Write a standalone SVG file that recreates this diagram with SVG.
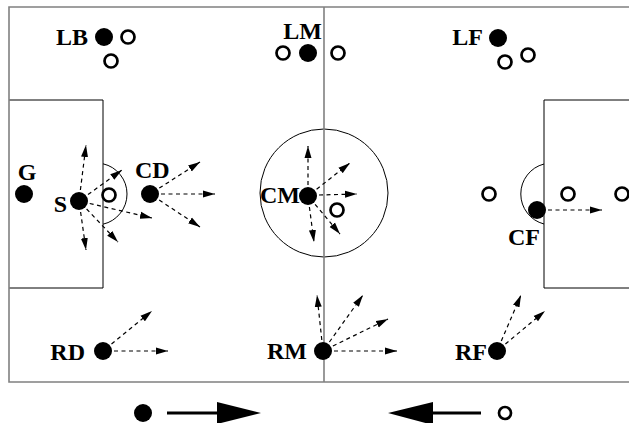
<svg xmlns="http://www.w3.org/2000/svg" width="629" height="423" viewBox="0 0 629 423">
  <style>
    .pitch { fill: none; stroke: #808080; stroke-width: 1.6; }
    .mark { fill: none; stroke: #000; stroke-width: 1; }
    .player { fill: #000; }
    .opp { fill: #fff; stroke: #000; stroke-width: 2.7; }
    .lbl { font-family: "Liberation Serif", "Times New Roman", serif; font-weight: bold; font-size: 24px; fill: #000; }
    .pass { stroke: #000; stroke-width: 1.2; stroke-dasharray: 4 3.5; fill: none; marker-end: url(#head); }
    .dir { stroke: #000; stroke-width: 3; fill: none; }
  </style>
  <defs>
    <marker id="head" markerUnits="userSpaceOnUse" markerWidth="12" markerHeight="8" refX="12" refY="4" orient="auto">
      <path d="M0,0.5 L12,4 L0,7.5 z" fill="#000"/>
    </marker>
  </defs>
  <rect width="629" height="423" fill="#fff"/>

  <!-- pitch markings -->
  <g id="pitch">
    <path class="mark" d="M9,100 H103 V288 H9"/>
    <path class="mark" d="M629,100 H544 V288 H629"/>
    <path class="mark" d="M103,163.8 A31,31 0 0 1 103,224.2"/>
    <path class="mark" d="M544,164 A31,31 0 0 0 544,224"/>
    <circle class="mark" cx="324" cy="193" r="64"/>
    <path class="pitch" d="M640,7 H9 V382 H640"/>
    <line class="pitch" x1="324" y1="7" x2="324" y2="382"/>
  </g>

  <!-- passing options -->
  <g id="connectors">
    <line class="pass" x1="80.4" y1="190" x2="86" y2="145"/>
    <line class="pass" x1="80.6" y1="212" x2="86" y2="250"/>
    <line class="pass" x1="88" y1="194.6" x2="122" y2="170"/>
    <line class="pass" x1="89.7" y1="203.5" x2="152" y2="218"/>
    <line class="pass" x1="86.6" y1="209" x2="118" y2="242"/>

    <line class="pass" x1="159.3" y1="188.1" x2="200" y2="162"/>
    <line class="pass" x1="161" y1="194" x2="215" y2="194"/>
    <line class="pass" x1="159.2" y1="200.1" x2="200" y2="227"/>

    <line class="pass" x1="308" y1="185" x2="308" y2="146"/>
    <line class="pass" x1="316.6" y1="189.2" x2="350" y2="163"/>
    <line class="pass" x1="319" y1="195" x2="357" y2="194"/>
    <line class="pass" x1="309.4" y1="207" x2="314" y2="242"/>
    <line class="pass" x1="315.1" y1="204.4" x2="340" y2="234"/>

    <line class="pass" x1="548" y1="210" x2="602" y2="210"/>

    <line class="pass" x1="111.5" y1="344" x2="152" y2="311"/>
    <line class="pass" x1="114" y1="351" x2="168" y2="351"/>

    <line class="pass" x1="321.8" y1="340" x2="317" y2="295"/>
    <line class="pass" x1="329.4" y1="342" x2="363" y2="295"/>
    <line class="pass" x1="332.9" y1="346" x2="388" y2="319"/>
    <line class="pass" x1="334" y1="351" x2="397" y2="351"/>

    <line class="pass" x1="501.3" y1="341" x2="521" y2="295"/>
    <line class="pass" x1="505.4" y1="344" x2="545" y2="311"/>
  </g>

  <!-- team players -->
  <g id="LB"><circle class="player" cx="104" cy="37" r="9"/><text class="lbl" x="88" y="45" text-anchor="end">LB</text></g>
  <g id="LM"><circle class="player" cx="308" cy="53" r="9"/><text class="lbl" x="322" y="39" text-anchor="end">LM</text></g>
  <g id="LF"><circle class="player" cx="498" cy="38" r="9"/><text class="lbl" x="483" y="45" text-anchor="end">LF</text></g>
  <g id="G"><circle class="player" cx="24" cy="194" r="9"/><text class="lbl" x="27" y="180" text-anchor="middle">G</text></g>
  <g id="S"><circle class="player" cx="79" cy="201" r="9"/><text class="lbl" x="67" y="212" text-anchor="end">S</text></g>
  <g id="CD"><circle class="player" cx="150" cy="194" r="9"/><text class="lbl" x="135" y="178">CD</text></g>
  <g id="CM"><text class="lbl" x="300" y="203" text-anchor="end">CM</text><circle class="player" cx="308" cy="196" r="9"/></g>
  <g id="CF"><circle class="player" cx="537" cy="210" r="9"/><text class="lbl" x="540" y="245" text-anchor="end">CF</text></g>
  <g id="RD"><circle class="player" cx="103" cy="351" r="9"/><text class="lbl" x="85" y="360" text-anchor="end">RD</text></g>
  <g id="RM"><circle class="player" cx="323" cy="351" r="9"/><text class="lbl" x="307" y="359" text-anchor="end">RM</text></g>
  <g id="RF"><circle class="player" cx="497" cy="351" r="9"/><text class="lbl" x="487" y="360" text-anchor="end">RF</text></g>

  <!-- opponents -->
  <g id="opponents">
    <circle class="opp" cx="128" cy="37" r="6.5"/>
    <circle class="opp" cx="111" cy="61" r="6.5"/>
    <circle class="opp" cx="283" cy="53" r="6.5"/>
    <circle class="opp" cx="338" cy="53" r="6.5"/>
    <circle class="opp" cx="505" cy="62" r="6.5"/>
    <circle class="opp" cx="528" cy="55" r="6.5"/>
    <circle class="opp" cx="109" cy="195" r="6.5"/>
    <circle class="opp" cx="337" cy="210" r="6.5"/>
    <circle class="opp" cx="489" cy="194" r="6.5"/>
    <circle class="opp" cx="568" cy="194" r="6.5"/>
    <circle class="opp" cx="622" cy="194" r="6.5"/>
  </g>

  <!-- direction of play legend -->
  <g id="legend-team">
    <circle class="player" cx="143" cy="413" r="9"/>
    <line class="dir" x1="167" y1="413" x2="218" y2="413"/>
    <polygon points="217,402 261,413 217,424" fill="#000"/>
  </g>
  <g id="legend-opp">
    <polygon points="433,402 388,413 433,425" fill="#000"/>
    <line class="dir" x1="432" y1="413" x2="481" y2="413"/>
    <circle class="opp" cx="505" cy="413" r="6"/>
  </g>
</svg>
